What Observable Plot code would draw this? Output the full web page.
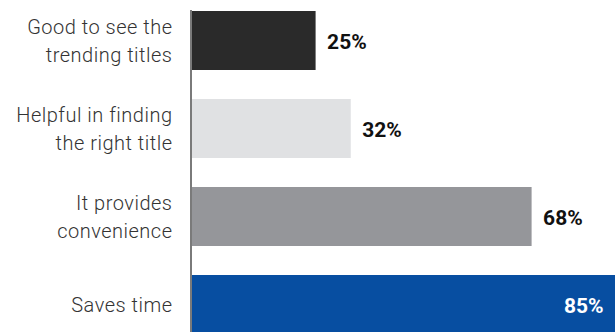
<!DOCTYPE html>
<html>
<head>
<meta charset="utf-8">
<script src="https://cdn.jsdelivr.net/npm/d3@7"></script>
<script src="https://cdn.jsdelivr.net/npm/@observablehq/plot@0.6"></script>
<style>
  html, body { margin: 0; padding: 0; background: #fff; overflow: hidden; }
  #chart svg { display: block; }
</style>
</head>
<body>
<div id="chart"></div>
<script>
const categories = [
  "Good to see the\ntrending titles",
  "Helpful in finding\nthe right title",
  "It provides\nconvenience",
  "Saves time"
];
const values = [25, 32, 68, 85];
const colors = ["#2a2a2a", "#e0e1e3", "#95969a", "#074ea1"];
const labels = ["25%", "32%", "68%", "85%"];

const rows = categories.map((c, i) => ({cat: c, value: values[i], color: colors[i], label: labels[i]}));
const outside = rows.filter(d => d.value < 80);
const inside = rows.filter(d => d.value >= 80);

const chart = Plot.plot({
  width: 615,
  height: 332,
  marginTop: 10,
  marginBottom: 0,
  marginLeft: 190,
  marginRight: 0,
  x: {domain: [0, 85], range: [190, 617], axis: null},
  y: {type: "band", domain: categories, range: [10, 334], paddingInner: 0.33, paddingOuter: 0, axis: null},
  color: {type: "identity"},
  style: {overflow: "visible"},
  marks: [
    Plot.barX(rows, {x1: 0, x2: "value", y: "cat", fill: "color"}),
    Plot.ruleX([0], {stroke: "#7a7a7a", strokeWidth: 2, dx: 0.5}),
    Plot.text(rows, {
      x: 0, y: "cat", text: "cat", textAnchor: "end", dx: -18, dy: -2,
      fontSize: 20, lineHeight: 1.42, fill: "#333",
      fontFamily: "Roboto", fontWeight: 300
    }),
    Plot.text(outside, {
      x: "value", y: "cat", text: "label", textAnchor: "start", dx: 11, dy: 1,
      fontSize: 21, fontWeight: "bold", fill: "#111", fontFamily: "Roboto"
    }),
    Plot.text(inside, {
      x: "value", y: "cat", text: "label", textAnchor: "end", dx: -14, dy: 1,
      fontSize: 21, fontWeight: "bold", fill: "#fff", fontFamily: "Roboto"
    })
  ]
});
const textGroups = chart.querySelectorAll('g[aria-label="text"]');
if (textGroups.length) textGroups[0].setAttribute("letter-spacing", "0.5");
document.getElementById("chart").append(chart);
</script>
</body>
</html>
